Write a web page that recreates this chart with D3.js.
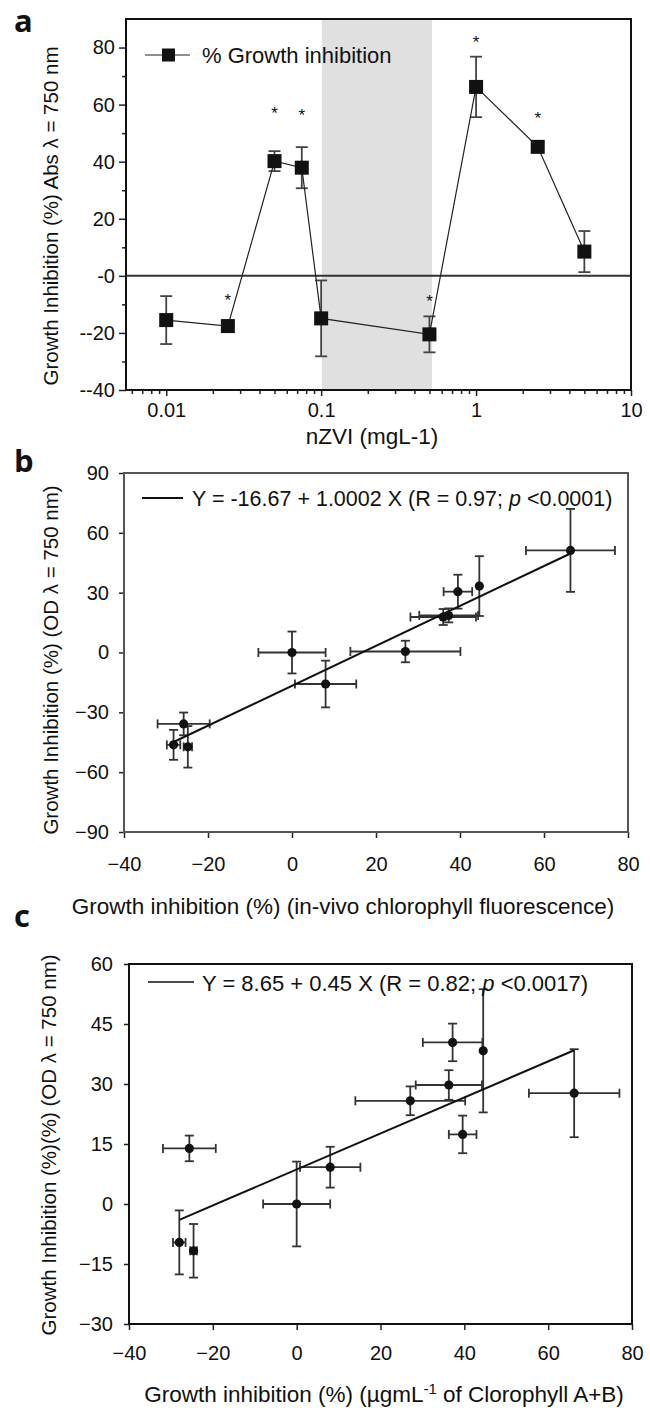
<!DOCTYPE html>
<html>
<head>
<meta charset="utf-8">
<script src="https://cdn.jsdelivr.net/npm/d3@7"></script>
<style>
body { margin: 0; background: #fff; }
svg text { font-family: "Liberation Sans", Arial, sans-serif; fill: #111; }
.plabel { font-family: "Open Sans", "DejaVu Sans", sans-serif; font-weight: bold; }
</style>
</head>
<body>
<svg id="fig" width="650" height="1408"></svg>
<script>
// ---- panel a: growth inhibition vs nZVI concentration
var concA = [0.01, 0.025, 0.05, 0.075, 0.1, 0.5, 1, 2.5, 5];
var inhibA = [-15.5, -17.6, 40.2, 37.9, -14.9, -20.5, 66.2, 45.2, 8.5];
var errA = [8.4, 1.4, 3.5, 7.2, 13.3, 6.3, 10.6, 0, 7.2];
var starA = [null, -7.5, 58, 57.4, null, -7.9, 83.1, 56.3, null];
var bandA = [0.101, 0.52];
var yTicksA = [-40, -20, 0, 20, 40, 60, 80];
var yTickLabelsA = ["--40", "--20", "-0", "20", "40", "60", "80"];
var yMinorA = [-30, -10, 10, 30, 50, 70];
var xTicksA = [0.01, 0.1, 1, 10];
var xTickLabelsA = ["0.01", "0.1", "1", "10"];

// ---- panel b: OD vs in-vivo chlorophyll fluorescence
var fluorB = [66.3, 44.6, 39.5, 36.0, 37.3, 27.0, 0, 8.0, -25.8, -28.2, -24.8];
var fluorErrB = [10.6, 0, 3.4, 7.8, 7, 13.1, 8, 7.3, 6.2, 1.6, 1];
var odB = [51.2, 33.3, 30.5, 17.8, 18.6, 0.5, 0, -15.8, -35.8, -46.3, -47.3];
var odErrB = [20.8, 15, 8.5, 4, 3.5, 5.4, 10.5, 11.7, 5.7, 7.5, 10.4];
var fitB = { a: -16.67, b: 1.0002 };
var xTicksB = [-40, -20, 0, 20, 40, 60, 80];
var yTicksB = [-90, -60, -30, 0, 30, 60, 90];

// ---- panel c: OD vs chlorophyll A+B
var chlC = [66.2, 44.5, 37.2, 36.3, 27.1, 39.6, -25.6, 8.0, 0, -28, -24.6];
var chlErrC = [10.8, 0, 7.1, 7.9, 13.1, 3.3, 6.3, 7.2, 8, 1.5, 0.8];
var odC = [27.7, 38.3, 40.4, 29.75, 25.8, 17.4, 13.9, 9.2, 0, -9.6, -11.7];
var odErrC = [11, 15.4, 4.7, 3.7, 3.6, 4.7, 3.2, 5.1, 10.6, 8, 6.7];
var fitC = { a: 8.65, b: 0.45 };
var xTicksC = [-40, -20, 0, 20, 40, 60, 80];
var yTicksC = [-30, -15, 0, 15, 30, 45, 60];

var svg = d3.select("#fig");

function yTitle(txt, cx, cy) {
    svg.append("text")
        .attr("transform", "rotate(-90)")
        .attr("x", -cy).attr("y", cx)
        .attr("text-anchor", "middle")
        .attr("dominant-baseline", "central")
        .attr("font-size", "20.5px")
        .text(txt);
}

function styleAxis(g, size) {
    g.select(".domain").remove();
    g.selectAll("text").attr("font-size", size).attr("fill", "#111");
    g.selectAll("line").attr("stroke", "#222").attr("stroke-width", 1.5);
}

// error bars with caps
function errBars(g, pts, cap, color) {
    pts.forEach(function (p) {
        if (p.ey > 0) {
            g.append("line").attr("x1", p.x).attr("x2", p.x).attr("y1", p.y1).attr("y2", p.y2);
            [p.y1, p.y2].forEach(function (yy) {
                g.append("line").attr("x1", p.x - cap).attr("x2", p.x + cap).attr("y1", yy).attr("y2", yy);
            });
        }
        if (p.ex > 0) {
            g.append("line").attr("y1", p.y).attr("y2", p.y).attr("x1", p.x1).attr("x2", p.x2);
            [p.x1, p.x2].forEach(function (xx) {
                g.append("line").attr("y1", p.y - cap).attr("y2", p.y + cap).attr("x1", xx).attr("x2", xx);
            });
        }
    });
    g.attr("stroke", color).attr("stroke-width", 1.8);
}

// ================= panel a
(function () {
    var m = { left: 126, right: 631, top: 19, bottom: 390 };
    var x = d3.scaleLog().domain([0.0055, 10]).range([m.left, m.right]);
    var y = d3.scaleLinear().domain([-40, 90]).range([m.bottom, m.top]);

    svg.append("rect")
        .attr("x", x(bandA[0])).attr("y", m.top)
        .attr("width", x(bandA[1]) - x(bandA[0])).attr("height", m.bottom - m.top)
        .attr("fill", "#e0e0e0");

    svg.append("line")
        .attr("x1", m.left).attr("x2", m.right).attr("y1", y(0)).attr("y2", y(0))
        .attr("stroke", "#333").attr("stroke-width", 2);

    var gy = svg.append("g").attr("transform", "translate(" + m.left + ",0)")
        .call(d3.axisLeft(y).tickValues(yTicksA).tickSize(7).tickPadding(4)
            .tickFormat(function (d, i) { return yTickLabelsA[i]; }));
    styleAxis(gy, "20px");
    var gym = svg.append("g").attr("transform", "translate(" + m.left + ",0)")
        .call(d3.axisLeft(y).tickValues(yMinorA).tickSize(4).tickFormat(""));
    styleAxis(gym, "20px");

    var minor = [];
    [0.001, 0.01, 0.1, 1].forEach(function (dec) {
        for (var k = 2; k <= 9; k++) {
            var v = dec * k;
            if (v > 0.0055 && v < 10) minor.push(v);
        }
    });
    var gx = svg.append("g").attr("transform", "translate(0," + m.bottom + ")")
        .call(d3.axisBottom(x).tickValues(xTicksA).tickSize(6).tickPadding(7)
            .tickFormat(function (d, i) { return xTickLabelsA[i]; }));
    styleAxis(gx, "20px");
    var gxm = svg.append("g").attr("transform", "translate(0," + m.bottom + ")")
        .call(d3.axisBottom(x).tickValues(minor).tickSize(4).tickFormat(""));
    styleAxis(gxm, "20px");

    svg.append("rect")
        .attr("x", m.left).attr("y", m.top)
        .attr("width", m.right - m.left).attr("height", m.bottom - m.top)
        .attr("fill", "none").attr("stroke", "#111").attr("stroke-width", 2);

    var pts = concA.map(function (c, i) {
        return { x: x(c), y: y(inhibA[i]), y1: y(inhibA[i] + errA[i]), y2: y(inhibA[i] - errA[i]), ey: errA[i], ex: 0 };
    });
    errBars(svg.append("g"), pts, 6, "#444");

    svg.append("path")
        .datum(concA.map(function (c, i) { return [c, inhibA[i]]; }))
        .attr("d", d3.line().x(function (d) { return x(d[0]); }).y(function (d) { return y(d[1]); }))
        .attr("fill", "none").attr("stroke", "#222").attr("stroke-width", 1.2);

    svg.append("g").selectAll("rect").data(pts).enter().append("rect")
        .attr("x", function (d) { return d.x - 7; })
        .attr("y", function (d) { return d.y - 7; })
        .attr("width", 14).attr("height", 14)
        .attr("fill", "#111");

    svg.append("g").selectAll("text")
        .data(concA.map(function (c, i) { return [c, starA[i]]; }).filter(function (d) { return d[1] !== null; }))
        .enter().append("text")
        .attr("x", function (d) { return x(d[0]); })
        .attr("y", function (d) { return y(d[1]) + 9; })
        .attr("text-anchor", "middle").attr("font-size", "17px").attr("fill", "#333")
        .text("*");

    // legend
    svg.append("line").attr("x1", 145).attr("x2", 190).attr("y1", 55).attr("y2", 55)
        .attr("stroke", "#222").attr("stroke-width", 1.2);
    svg.append("rect").attr("x", 162).attr("y", 48.5).attr("width", 13).attr("height", 13).attr("fill", "#111");
    svg.append("text").attr("x", 202).attr("y", 62.5).attr("font-size", "22px").text("% Growth inhibition");

    svg.append("text").attr("x", 372).attr("y", 444).attr("text-anchor", "middle")
        .attr("font-size", "22.5px").text("nZVI (mgL-1)");
    yTitle("Growth Inhibition (%) Abs \u03bb = 750 nm", 50, 216);
    svg.append("text").attr("class", "plabel").attr("x", 14).attr("y", 32).attr("font-size", "31px").text("a");
})();

// scatter panel helper for b and c
function scatterPanel(m, xd, yd, xs, xe, ys, ye, fit, xTicks, yTicks, opt) {
    var x = d3.scaleLinear().domain(xd).range([m.left, m.right]);
    var y = d3.scaleLinear().domain(yd).range([m.bottom, m.top]);

    var gx = svg.append("g").attr("transform", "translate(0," + m.bottom + ")")
        .call(d3.axisBottom(x).tickValues(xTicks).tickSize(6).tickPadding(opt.xpad).tickFormat(d3.format("d")));
    styleAxis(gx, "20px");
    var gy = svg.append("g").attr("transform", "translate(" + m.left + ",0)")
        .call(d3.axisLeft(y).tickValues(yTicks).tickSize(5).tickPadding(opt.ypad).tickFormat(d3.format("d")));
    styleAxis(gy, "20px");

    svg.append("rect")
        .attr("x", m.left).attr("y", m.top)
        .attr("width", m.right - m.left).attr("height", m.bottom - m.top)
        .attr("fill", "none").attr("stroke", opt.frame).attr("stroke-width", 2);

    var pts = xs.map(function (v, i) {
        return {
            x: x(v), y: y(ys[i]),
            x1: x(v - xe[i]), x2: x(v + xe[i]), ex: xe[i],
            y1: y(ys[i] + ye[i]), y2: y(ys[i] - ye[i]), ey: ye[i]
        };
    });
    errBars(svg.append("g"), pts, 4.5, "#333");

    var lo = d3.min(xs), hi = d3.max(xs);
    svg.append("line")
        .attr("x1", x(lo)).attr("y1", y(fit.a + fit.b * lo))
        .attr("x2", x(hi)).attr("y2", y(fit.a + fit.b * hi))
        .attr("stroke", "#111").attr("stroke-width", 2);

    svg.append("g").selectAll("circle").data(pts).enter().append("circle")
        .attr("cx", function (d) { return d.x; })
        .attr("cy", function (d) { return d.y; })
        .attr("r", 4.6).attr("fill", "#111");
    return { x: x, y: y };
}

// ================= panel b
(function () {
    var m = { left: 124, right: 628, top: 473, bottom: 832 };
    scatterPanel(m, [-40, 80], [-90, 90], fluorB, fluorErrB, odB, odErrB, fitB, xTicksB, yTicksB,
        { xpad: 19, ypad: 10, frame: "#555" });

    svg.append("line").attr("x1", 142).attr("x2", 183).attr("y1", 498).attr("y2", 498)
        .attr("stroke", "#111").attr("stroke-width", 2);
    var t = svg.append("text").attr("x", 192).attr("y", 506).attr("font-size", "21.5px");
    t.append("tspan").text("Y = -16.67 + 1.0002 X (R = 0.97; ");
    t.append("tspan").attr("font-style", "italic").text("p");
    t.append("tspan").text(" <0.0001)");

    svg.append("text").attr("x", 343).attr("y", 914).attr("text-anchor", "middle")
        .attr("font-size", "22.5px").text("Growth inhibition (%) (in-vivo chlorophyll fluorescence)");
    yTitle("Growth Inhibition (%) (OD \u03bb = 750 nm)", 50, 660);
    svg.append("text").attr("class", "plabel").attr("x", 14).attr("y", 472).attr("font-size", "31px").text("b");
})();

// ================= panel c
(function () {
    var m = { left: 129, right: 632, top: 964, bottom: 1324 };
    scatterPanel(m, [-40, 80], [-30, 60], chlC, chlErrC, odC, odErrC, fitC, xTicksC, yTicksC,
        { xpad: 16, ypad: 11, frame: "#111" });

    svg.append("line").attr("x1", 148).attr("x2", 194).attr("y1", 982).attr("y2", 982)
        .attr("stroke", "#111").attr("stroke-width", 1.5);
    var t = svg.append("text").attr("x", 202).attr("y", 990.5).attr("font-size", "22px");
    t.append("tspan").text("Y = 8.65 + 0.45 X (R = 0.82; ");
    t.append("tspan").attr("font-style", "italic").text("p");
    t.append("tspan").text(" <0.0017)");

    var xt = svg.append("text").attr("x", 384).attr("y", 1402).attr("text-anchor", "middle").attr("font-size", "22.5px");
    xt.append("tspan").text("Growth inhibition (%) (\u00b5gmL");
    xt.append("tspan").attr("dy", -8).attr("font-size", "15px").text("-1");
    xt.append("tspan").attr("dy", 8).text(" of Clorophyll A+B)");
    yTitle("Growth Inhibition (%)(%) (OD \u03bb = 750 nm)", 48, 1145);
    svg.append("text").attr("class", "plabel").attr("x", 14).attr("y", 927).attr("font-size", "31px").text("c");
})();
</script>
</body>
</html>
